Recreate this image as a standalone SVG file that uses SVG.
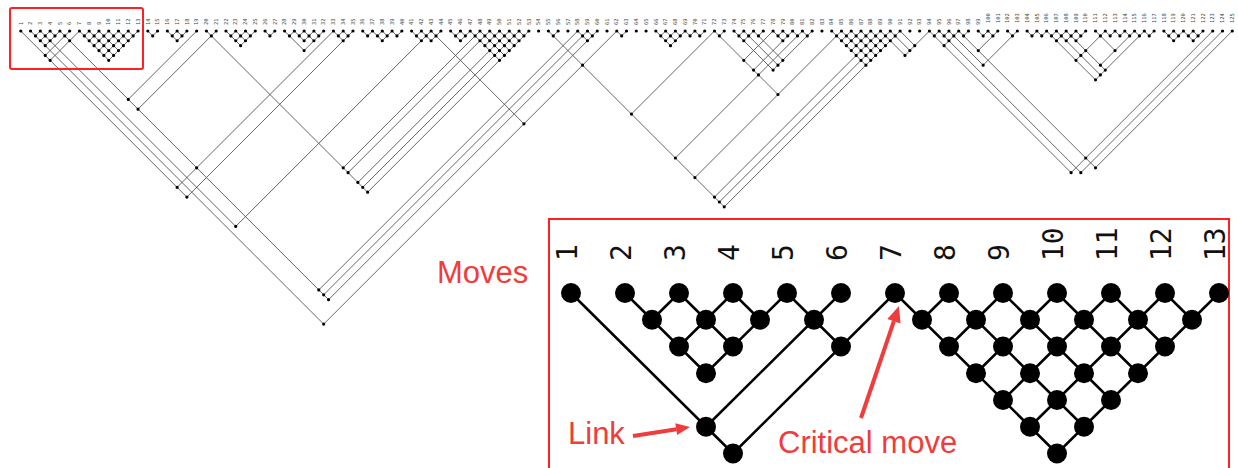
<svg xmlns="http://www.w3.org/2000/svg" width="1238" height="468" viewBox="0 0 1238 468">
<style>
.lbl{font-family:"DejaVu Sans Mono",monospace;font-size:5.4px;fill:#444}
.ilbl{font-family:"DejaVu Sans Mono",monospace;font-size:28px;fill:#111}
.red{font-family:"Liberation Sans",Arial,sans-serif;font-size:31px;fill:#f03c3c}
.ln{fill:none;stroke:#555;stroke-width:0.9;vector-effect:non-scaling-stroke}
.dot{fill:none;stroke:#000;stroke-width:3.2;stroke-linecap:round;vector-effect:non-scaling-stroke}
.iln{fill:none;stroke:#000;stroke-width:2.5}
.inode{fill:#000}
.box{fill:none;stroke:#ff2020;stroke-width:2}
.arr{fill:none;stroke:#f03c3c;stroke-width:4}
.arrh{fill:#f03c3c}
</style>
<rect width="1238" height="468" fill="#fff"/>
<g id="top-labels" class="lbl" transform="rotate(-90)">
<text x="-25" y="22.5">1</text><text x="-25" y="32.27">2</text><text x="-25" y="42.04">3</text><text x="-25" y="51.81">4</text><text x="-25" y="61.58">5</text><text x="-25" y="71.35">6</text><text x="-25" y="81.12">7</text><text x="-25" y="90.89">8</text><text x="-25" y="100.66">9</text><text x="-25" y="110.43">10</text>
<text x="-25" y="120.2">11</text><text x="-25" y="129.97">12</text><text x="-25" y="139.74">13</text><text x="-25" y="149.51">14</text><text x="-25" y="159.28">15</text><text x="-25" y="169.05">16</text><text x="-25" y="178.82">17</text><text x="-25" y="188.59">18</text><text x="-25" y="198.36">19</text><text x="-25" y="208.13">20</text>
<text x="-25" y="217.9">21</text><text x="-25" y="227.67">22</text><text x="-25" y="237.44">23</text><text x="-25" y="247.21">24</text><text x="-25" y="256.98">25</text><text x="-25" y="266.75">26</text><text x="-25" y="276.52">27</text><text x="-25" y="286.29">28</text><text x="-25" y="296.06">29</text><text x="-25" y="305.83">30</text>
<text x="-25" y="315.6">31</text><text x="-25" y="325.37">32</text><text x="-25" y="335.14">33</text><text x="-25" y="344.91">34</text><text x="-25" y="354.68">35</text><text x="-25" y="364.45">36</text><text x="-25" y="374.22">37</text><text x="-25" y="383.99">38</text><text x="-25" y="393.76">39</text><text x="-25" y="403.53">40</text>
<text x="-25" y="413.3">41</text><text x="-25" y="423.07">42</text><text x="-25" y="432.84">43</text><text x="-25" y="442.61">44</text><text x="-25" y="452.38">45</text><text x="-25" y="462.15">46</text><text x="-25" y="471.92">47</text><text x="-25" y="481.69">48</text><text x="-25" y="491.46">49</text><text x="-25" y="501.23">50</text>
<text x="-25" y="511">51</text><text x="-25" y="520.77">52</text><text x="-25" y="530.54">53</text><text x="-25" y="540.31">54</text><text x="-25" y="550.08">55</text><text x="-25" y="559.85">56</text><text x="-25" y="569.62">57</text><text x="-25" y="579.39">58</text><text x="-25" y="589.16">59</text><text x="-25" y="598.93">60</text>
<text x="-25" y="608.7">61</text><text x="-25" y="618.47">62</text><text x="-25" y="628.24">63</text><text x="-25" y="638.01">64</text><text x="-25" y="647.78">65</text><text x="-25" y="657.55">66</text><text x="-25" y="667.32">67</text><text x="-25" y="677.09">68</text><text x="-25" y="686.86">69</text><text x="-25" y="696.63">70</text>
<text x="-25" y="706.4">71</text><text x="-25" y="716.17">72</text><text x="-25" y="725.94">73</text><text x="-25" y="735.71">74</text><text x="-25" y="745.48">75</text><text x="-25" y="755.25">76</text><text x="-25" y="765.02">77</text><text x="-25" y="774.79">78</text><text x="-25" y="784.56">79</text><text x="-25" y="794.33">80</text>
<text x="-25" y="804.1">81</text><text x="-25" y="813.87">82</text><text x="-25" y="823.64">83</text><text x="-25" y="833.41">84</text><text x="-25" y="843.18">85</text><text x="-25" y="852.95">86</text><text x="-25" y="862.72">87</text><text x="-25" y="872.49">88</text><text x="-25" y="882.26">89</text><text x="-25" y="892.03">90</text>
<text x="-25" y="901.8">91</text><text x="-25" y="911.57">92</text><text x="-25" y="921.34">93</text><text x="-25" y="931.11">94</text><text x="-25" y="940.88">95</text><text x="-25" y="950.65">96</text><text x="-25" y="960.42">97</text><text x="-25" y="970.19">98</text><text x="-25" y="979.96">99</text><text x="-23" y="989.73">100</text>
<text x="-23" y="999.5">101</text><text x="-23" y="1009.27">102</text><text x="-23" y="1019.04">103</text><text x="-23" y="1028.81">104</text><text x="-23" y="1038.58">105</text><text x="-23" y="1048.35">106</text><text x="-23" y="1058.12">107</text><text x="-23" y="1067.89">108</text><text x="-23" y="1077.66">109</text><text x="-23" y="1087.43">110</text>
<text x="-23" y="1097.2">111</text><text x="-23" y="1106.97">112</text><text x="-23" y="1116.74">113</text><text x="-23" y="1126.51">114</text><text x="-23" y="1136.28">115</text><text x="-23" y="1146.05">116</text><text x="-23" y="1155.82">117</text><text x="-23" y="1165.59">118</text><text x="-23" y="1175.36">119</text><text x="-23" y="1185.13">120</text>
<text x="-23" y="1194.9">121</text><text x="-23" y="1204.67">122</text><text x="-23" y="1214.44">123</text><text x="-23" y="1224.21">124</text><text x="-23" y="1233.98">125</text>
</g>
<g id="linkograph" transform="translate(20.8,31) scale(4.885)">
<g id="connectors">
<path class="ln" d="M0 0l34 34M2 0l60 60M4 0l40 40M4 0l-1 1M6 0l1 1M6 0l-2 2M8 0l55 55M8 0l-3 3M10 0l-5 5M12 0l-6 6M12 0l6 6M14 0l-1 1M14 0l5 5M16 0l-2 2M16 0l4 4M18 0l-3 3M18 0l3 3M20 0l-4 4M20 0l2 2M22 0l-5 5M22 0l1 1M24 0l-6 6M26 0l1 1M28 0l-1 1M30 0l2 2M32 0l-1 1M32 0l1 1M34 0l-2 2M36 0l-14 14M38 0l33 33M40 0l-16 16M42 0l3 3M44 0l-1 1M44 0l2 2M46 0l-2 2M46 0l1 1M48 0l-3 3M50 0l1 1M52 0l-1 1M54 0l4 4M56 0l2 2M56 0l-1 1M58 0l-1 1M58 0l2 2M60 0l-2 2M60 0l1 1M62 0l-4 4M64 0l-32 32M64 0l2 2M66 0l-1 1M66 0l1 1M68 0l-34 34M70 0l1 1M72 0l-1 1M72 0l2 2M74 0l-1 1M74 0l1 1M76 0l-2 2M76 0l1 1M78 0l-1 1M80 0l2 2M82 0l-1 1M82 0l2 2M84 0l-40 40M84 0l19 19M86 0l-2 2M88 0l2 2M90 0l-1 1M90 0l1 1M92 0l-2 2M92 0l6 6M94 0l-28 28M94 0l5 5M96 0l-29 29M96 0l4 4M98 0l-3 3M98 0l3 3M100 0l-31 31M100 0l2 2M102 0l-32 32M102 0l1 1M104 0l-33 33M108 0l36 36M110 0l-1 1M114 0l-53 53M114 0l2 2M116 0l-54 54M116 0l1 1M118 0l-55 55M122 0l-60 60M122 0l1 1M124 0l-1 1M130 0l3 3M132 0l-1 1M132 0l2 2M134 0l-2 2M134 0l1 1M136 0l-3 3M136 0l1 1M138 0l-1 1M138 0l1 1M140 0l-1 1M142 0l-17 17M142 0l13 13M144 0l-1 1M146 0l8 8M148 0l-1 1M148 0l7 7M150 0l-2 2M150 0l6 6M152 0l-1 1M154 0l-6 6M154 0l2 2M156 0l-1 1M156 0l1 1M158 0l-8 8M158 0l1 1M160 0l-26 26M160 0l1 1M162 0l-8 8M166 0l7 7M168 0l-30 30M168 0l6 6M170 0l-2 2M170 0l5 5M172 0l-3 3M172 0l4 4M174 0l-4 4M174 0l3 3M176 0l-34 34M176 0l5 5M178 0l-35 35M178 0l4 4M180 0l-36 36M180 0l3 3M186 0l-5 5M186 0l29 29M188 0l-1 1M188 0l29 29M190 0l-1 1M190 0l7 7M192 0l-3 3M192 0l28 28M194 0l-1 1M196 0l1 1M198 0l-1 1M198 0l1 1M200 0l-4 4M202 0l1 1M204 0l-7 7M206 0l1 1M208 0l-1 1M208 0l1 1M210 0l-1 1M210 0l10 10M212 0l-1 1M212 0l9 9M214 0l-2 2M214 0l8 8M216 0l-2 2M216 0l1 1M218 0l-2 2M220 0l4 4M222 0l-6 6M222 0l1 1M224 0l-1 1M224 0l1 1M226 0l-1 1M226 0l1 1M228 0l-7 7M228 0l1 1M230 0l-10 10M230 0l1 1M232 0l-1 1M234 0l2 2M236 0l-1 1M236 0l1 1M238 0l-2 2M238 0l2 2M240 0l-1 1M240 0l1 1M242 0l-2 2M244 0l-29 29M246 0l-29 29M248 0l-28 28"/>
</g>
<g id="move-nodes">
<path class="dot" d="M0 0h0m2 0h0m2 0h0m2 0h0m2 0h0m2 0h0m2 0h0m2 0h0m2 0h0m2 0h0m2 0h0m2 0h0m2 0h0m2 0h0m2 0h0m2 0h0m2 0h0m2 0h0m2 0h0m2 0h0m2 0h0m2 0h0m2 0h0m2 0h0m2 0h0m2 0h0m2 0h0m2 0h0m2 0h0m2 0h0m2 0h0m2 0h0m2 0h0m2 0h0m2 0h0m2 0h0m2 0h0m2 0h0m2 0h0m2 0h0m2 0h0m2 0h0m2 0h0m2 0h0m2 0h0m2 0h0m2 0h0m2 0h0m2 0h0m2 0h0m2 0h0m2 0h0m2 0h0m2 0h0m2 0h0m2 0h0m2 0h0m2 0h0m2 0h0m2 0h0m2 0h0m2 0h0m2 0h0m2 0h0m2 0h0m2 0h0m2 0h0m2 0h0m2 0h0m2 0h0m2 0h0m2 0h0m2 0h0m2 0h0m2 0h0m2 0h0m2 0h0m2 0h0m2 0h0m2 0h0m2 0h0m2 0h0m2 0h0m2 0h0m2 0h0m2 0h0m2 0h0m2 0h0m2 0h0m2 0h0m2 0h0m2 0h0m2 0h0m2 0h0m2 0h0m2 0h0m2 0h0m2 0h0m2 0h0m2 0h0m2 0h0m2 0h0m2 0h0m2 0h0m2 0h0m2 0h0m2 0h0m2 0h0m2 0h0m2 0h0m2 0h0m2 0h0m2 0h0m2 0h0m2 0h0m2 0h0m2 0h0m2 0h0m2 0h0m2 0h0m2 0h0m2 0h0m2 0h0m2 0h0m2 0h0m2 0h0m2 0h0m2 0h0m2 0h0m2 0h0m2 0h0m2 0h0m2 0h0m2 0h0"/>
</g>
<g id="link-nodes">
<path class="dot" d="M5 5h0M6 6h0M3 1h0M5 1h0M7 1h0M9 1h0M4 2h0M6 2h0M5 3h0M10 2h0M13 1h0M15 1h0M17 1h0M19 1h0M21 1h0M23 1h0M14 2h0M16 2h0M18 2h0M20 2h0M22 2h0M15 3h0M17 3h0M19 3h0M21 3h0M16 4h0M18 4h0M20 4h0M17 5h0M19 5h0M18 6h0M32 32h0M34 34h0M62 60h0M44 40h0M22 14h0M24 16h0M36 28h0M61 53h0M62 54h0M63 55h0M27 1h0M31 1h0M33 1h0M32 2h0M39 1h0M66 28h0M67 29h0M69 31h0M70 32h0M71 33h0M43 1h0M45 1h0M47 1h0M44 2h0M46 2h0M45 3h0M51 1h0M55 1h0M57 1h0M59 1h0M61 1h0M58 2h0M60 2h0M58 4h0M65 1h0M67 1h0M66 2h0M71 1h0M73 1h0M75 1h0M74 2h0M77 1h0M81 1h0M83 1h0M85 1h0M82 2h0M84 2h0M103 19h0M89 1h0M91 1h0M90 2h0M93 1h0M95 1h0M97 1h0M99 1h0M101 1h0M103 1h0M94 2h0M96 2h0M98 2h0M100 2h0M102 2h0M95 3h0M97 3h0M99 3h0M101 3h0M96 4h0M98 4h0M100 4h0M97 5h0M99 5h0M98 6h0M109 1h0M115 1h0M117 1h0M116 2h0M115 7h0M125 17h0M134 26h0M138 30h0M142 34h0M143 35h0M144 36h0M123 1h0M131 1h0M133 1h0M135 1h0M132 2h0M134 2h0M133 3h0M137 1h0M139 1h0M143 1h0M148 6h0M150 8h0M151 9h0M155 13h0M147 1h0M149 1h0M148 2h0M151 1h0M155 1h0M157 1h0M156 2h0M159 1h0M161 1h0M154 8h0M155 7h0M156 6h0M167 1h0M169 1h0M171 1h0M173 1h0M175 1h0M177 1h0M179 1h0M168 2h0M170 2h0M172 2h0M174 2h0M176 2h0M178 2h0M169 3h0M171 3h0M173 3h0M175 3h0M177 3h0M170 4h0M172 4h0M174 4h0M176 4h0M171 5h0M173 5h0M175 5h0M172 6h0M174 6h0M173 7h0M181 5h0M182 4h0M183 3h0M187 1h0M189 1h0M191 1h0M190 2h0M189 3h0M193 1h0M196 4h0M197 7h0M215 29h0M217 29h0M218 26h0M220 28h0M197 1h0M199 1h0M203 1h0M207 1h0M209 1h0M211 1h0M213 1h0M215 1h0M217 1h0M212 2h0M214 2h0M216 2h0M216 6h0M217 5h0M218 4h0M220 10h0M221 9h0M222 8h0M221 7h0M224 4h0M221 1h0M223 1h0M225 1h0M227 1h0M229 1h0M231 1h0M235 1h0M237 1h0M236 2h0M239 1h0M241 1h0M240 2h0"/>
</g>
</g>
<rect id="highlight-box" class="box" x="10" y="8" width="133" height="61" rx="2"/>
<rect id="inset-box" class="box" x="549" y="219" width="680" height="262"/>
<g id="inset">
<g id="inset-labels" class="ilbl" transform="rotate(-90)">
<text x="-261" y="577">1</text><text x="-261" y="631">2</text><text x="-261" y="685">3</text><text x="-261" y="739">4</text><text x="-261" y="793">5</text><text x="-261" y="847">6</text><text x="-261" y="901">7</text><text x="-261" y="955">8</text><text x="-261" y="1009">9</text><text x="-261" y="1063">10</text><text x="-261" y="1117">11</text><text x="-261" y="1171">12</text><text x="-261" y="1225">13</text>
</g>
<g id="inset-connectors">
<path class="iln" d="M571 293L733 453.5M625 293L706 373.25M679 293L733 346.5M679 293L652 319.75M733 293L760 319.75M733 293L679 346.5M787 293L841 346.5M787 293L706 373.25M841 293L706 426.75M895 293L733 453.5M895 293L1057 453.5M949 293L922 319.75M949 293L1084 426.75M1003 293L949 346.5M1003 293L1111 400M1057 293L976 373.25M1057 293L1138 373.25M1111 293L1003 400M1111 293L1165 346.5M1165 293L1030 426.75M1165 293L1192 319.75M1219 293L1057 453.5"/>
</g>
<g id="inset-nodes" class="inode">
<g id="n1"><circle cx="571" cy="293" r="10"/></g><g id="n2"><circle cx="625" cy="293" r="10"/></g><g id="n3"><circle cx="679" cy="293" r="10"/></g><g id="n4"><circle cx="733" cy="293" r="10"/></g><g id="n5"><circle cx="787" cy="293" r="10"/></g><g id="n6"><circle cx="841" cy="293" r="10"/></g><g id="n7"><circle cx="895" cy="293" r="10"/></g><g id="n8"><circle cx="949" cy="293" r="10"/></g><g id="n9"><circle cx="1003" cy="293" r="10"/></g><g id="n10"><circle cx="1057" cy="293" r="10"/></g><g id="n11"><circle cx="1111" cy="293" r="10"/></g><g id="n12"><circle cx="1165" cy="293" r="10"/></g><g id="n13"><circle cx="1219" cy="293" r="10"/></g>
<g id="l1-6"><circle cx="706" cy="426.75" r="10"/></g><g id="l1-7"><circle cx="733" cy="453.5" r="10"/></g>
<g id="l2-3"><circle cx="652" cy="319.75" r="10"/></g><g id="l3-4"><circle cx="706" cy="319.75" r="10"/></g><g id="l4-5"><circle cx="760" cy="319.75" r="10"/></g><g id="l5-6"><circle cx="814" cy="319.75" r="10"/></g>
<g id="l2-4"><circle cx="679" cy="346.5" r="10"/></g><g id="l3-5"><circle cx="733" cy="346.5" r="10"/></g><g id="l2-5"><circle cx="706" cy="373.25" r="10"/></g><g id="l5-7"><circle cx="841" cy="346.5" r="10"/></g>
<g id="l7-8"><circle cx="922" cy="319.75" r="10"/></g><g id="l8-9"><circle cx="976" cy="319.75" r="10"/></g><g id="l9-10"><circle cx="1030" cy="319.75" r="10"/></g><g id="l10-11"><circle cx="1084" cy="319.75" r="10"/></g><g id="l11-12"><circle cx="1138" cy="319.75" r="10"/></g><g id="l12-13"><circle cx="1192" cy="319.75" r="10"/></g>
<g id="l7-9"><circle cx="949" cy="346.5" r="10"/></g><g id="l8-10"><circle cx="1003" cy="346.5" r="10"/></g><g id="l9-11"><circle cx="1057" cy="346.5" r="10"/></g><g id="l10-12"><circle cx="1111" cy="346.5" r="10"/></g><g id="l11-13"><circle cx="1165" cy="346.5" r="10"/></g>
<g id="l7-10"><circle cx="976" cy="373.25" r="10"/></g><g id="l8-11"><circle cx="1030" cy="373.25" r="10"/></g><g id="l9-12"><circle cx="1084" cy="373.25" r="10"/></g><g id="l10-13"><circle cx="1138" cy="373.25" r="10"/></g>
<g id="l7-11"><circle cx="1003" cy="400" r="10"/></g><g id="l8-12"><circle cx="1057" cy="400" r="10"/></g><g id="l9-13"><circle cx="1111" cy="400" r="10"/></g>
<g id="l7-12"><circle cx="1030" cy="426.75" r="10"/></g><g id="l8-13"><circle cx="1084" cy="426.75" r="10"/></g>
<g id="l7-13"><circle cx="1057" cy="453.5" r="10"/></g>
</g>
</g>
<g id="annotations">
<text class="red" x="437" y="283">Moves</text>
<text class="red" x="568" y="444">Link</text>
<text class="red" x="778" y="453">Critical move</text>
<path class="arr" d="M633 436L676.5 429.2"/>
<polygon class="arrh" points="690,427 677.1,435.1 675.3,423.3"/>
<path class="arr" d="M861 418L893.9 321.2"/>
<polygon class="arrh" points="899,306 900.5,323.4 887.3,319"/>
</g>
</svg>
